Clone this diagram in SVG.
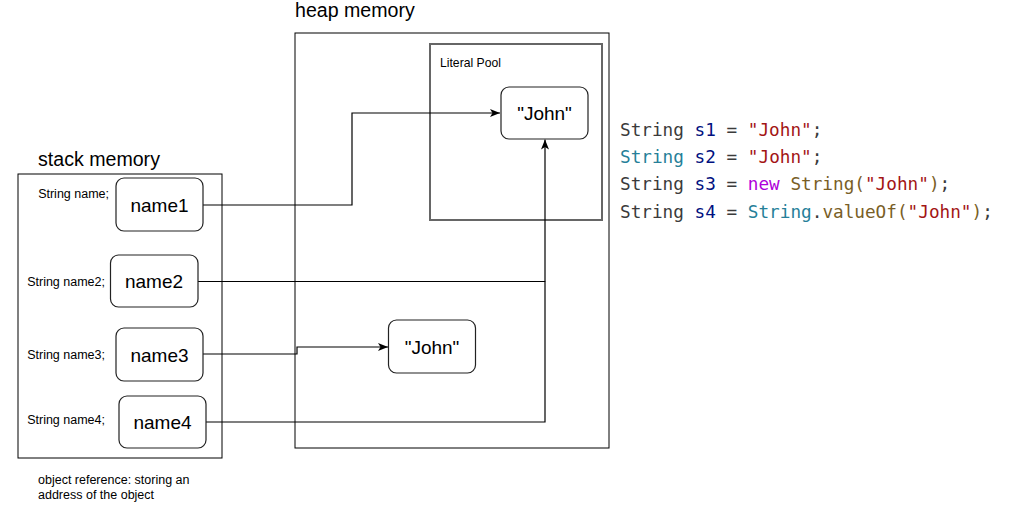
<svg xmlns="http://www.w3.org/2000/svg" width="1016" height="516" viewBox="0 0 1016 516">
<defs>
<style>
.t{font-family:"Liberation Sans",Arial,sans-serif;fill:#000}
.title{font-size:19.6px}
.lbl{font-size:19px}
.sm{font-size:12.5px}
.box{fill:#fff;stroke:#000;stroke-width:1}
.node{fill:#fff;stroke:#222;stroke-width:1.2}
.edge{fill:none;stroke:#000;stroke-width:1.2}
.code{font-family:"DejaVu Sans Mono","Liberation Mono",monospace;font-size:17.7px;fill:#3b3b3b}
.v{fill:#001080}.s{fill:#a31515}.ty{fill:#267f99}.kw{fill:#af00db}.fn{fill:#795e26}
</style>
<marker id="arr" viewBox="0 0 10 10" refX="10" refY="5" markerWidth="10" markerHeight="10" markerUnits="userSpaceOnUse" orient="auto">
<path d="M0,1 L10,5 L0,9 L2.5,5 Z" fill="#000"/>
</marker>
</defs>
<rect width="1016" height="516" fill="#fff"/>

<g id="heap">
<rect class="box" x="295" y="33" width="314" height="415"/>
<text class="t title" x="295" y="17">heap memory</text>
</g>
<g id="literal-pool">
<rect x="430" y="44" width="172" height="176" fill="#fff" stroke="#666" stroke-width="2"/>
<text class="t" style="font-size:12.2px" x="440" y="67">Literal Pool</text>
</g>
<g id="stack">
<rect class="box" x="18" y="174" width="204" height="284" stroke="#222"/>
<text class="t title" x="38" y="166">stack memory</text>
</g>

<g id="connectors">
<path class="edge" d="M203 205 H352 V113 H500" marker-end="url(#arr)"/>
<path class="edge" d="M198 281.5 H545 V139.5" marker-end="url(#arr)"/>
<path class="edge" d="M203 354 H297 V347 H388" marker-end="url(#arr)"/>
<path class="edge" d="M206 422 H545 V281.5"/>
</g>

<g id="john-pool">
<rect class="node" x="501" y="87" width="87" height="52" rx="8"/>
<text class="t lbl" x="544.5" y="120" text-anchor="middle">"John"</text>
</g>
<g id="john-heap">
<rect class="node" x="388.5" y="320" width="87" height="53" rx="8"/>
<text class="t lbl" x="432" y="353.5" text-anchor="middle">"John"</text>
</g>

<g id="name1">
<text class="t sm" x="109" y="197.5" text-anchor="end">String name;</text>
<rect class="node" x="116" y="178" width="87" height="53" rx="8"/>
<text class="t lbl" x="159.5" y="211.5" text-anchor="middle">name1</text>
</g>
<g id="name2">
<text class="t sm" x="105" y="285.5" text-anchor="end">String name2;</text>
<rect class="node" x="110.5" y="255" width="87.5" height="52" rx="8"/>
<text class="t lbl" x="154" y="288" text-anchor="middle">name2</text>
</g>
<g id="name3">
<text class="t sm" x="105" y="358.5" text-anchor="end">String name3;</text>
<rect class="node" x="116" y="328" width="87" height="53" rx="8"/>
<text class="t lbl" x="159.5" y="361.5" text-anchor="middle">name3</text>
</g>
<g id="name4">
<text class="t sm" x="105" y="423.5" text-anchor="end">String name4;</text>
<rect class="node" x="119" y="396" width="87" height="52" rx="8"/>
<text class="t lbl" x="162.5" y="429" text-anchor="middle">name4</text>
</g>

<g id="note">
<text class="t sm" x="38" y="483.5">object reference: storing an</text>
<text class="t sm" x="38" y="499">address of the object</text>
</g>

<g id="code" xml:space="preserve">
<text class="code" x="620" y="135.5">String <tspan class="v">s1</tspan> = <tspan class="s">"John"</tspan>;</text>
<text class="code" x="620" y="163"><tspan class="ty">String</tspan> <tspan class="v">s2</tspan> = <tspan class="s">"John"</tspan>;</text>
<text class="code" x="620" y="190.3">String <tspan class="v">s3</tspan> = <tspan class="kw">new</tspan> <tspan class="fn">String(</tspan><tspan class="s">"John"</tspan><tspan class="fn">)</tspan>;</text>
<text class="code" x="620" y="217.6">String <tspan class="v">s4</tspan> = <tspan class="ty">String</tspan>.<tspan class="fn">valueOf(</tspan><tspan class="s">"John"</tspan><tspan class="fn">)</tspan>;</text>
</g>
</svg>
